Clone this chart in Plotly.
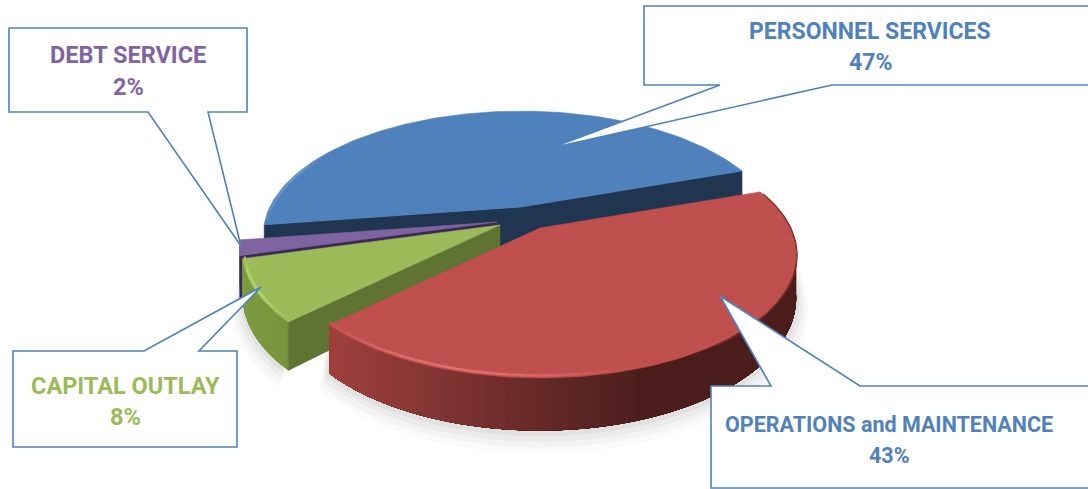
import numpy as np
import plotly.graph_objects as go

# Budget shares
labels = ["PERSONNEL SERVICES", "OPERATIONS and MAINTENANCE", "CAPITAL OUTLAY", "DEBT SERVICE"]
values = [47, 43, 8, 2]

# Slice styling and exploded apex positions, in page pixels
top_colors = ["#4f81bd", "#c0504d", "#9bbb59", "#8064a2"]
cut_colors = ["#1f3550", "#5f7333", "#5f7333", "#3a2a52"]
apexes = [(521, 207), (540, 228), (500, 225), (497, 222)]
x_scales = [0.985, 0.98, 0.985, 0.985]

# Perspective parameters of the pie disc
RX, RY, K, DEPTH = 255.0, 117.0, 0.22, 41.0
START_DEG = 188.5  # the first slice begins here and runs clockwise

W, H = 1088, 489


def rim(i, deg, drop=0.0, grow=0.0):
    """Project circle angles (degrees) of slice i to page pixels, optionally lowered by the depth."""
    t = np.radians(np.asarray(deg, dtype=float))
    w = 1 + K * np.sin(t)
    x = apexes[i][0] + (RX + grow) * x_scales[i] * np.cos(t) / w
    y = apexes[i][1] - (RY + grow) * np.sin(t) / w + drop * DEPTH / w
    return x, y


def blend(a, b, f):
    ca = [int(a[i:i + 2], 16) for i in (1, 3, 5)]
    cb = [int(b[i:i + 2], 16) for i in (1, 3, 5)]
    return "rgb(%d,%d,%d)" % tuple(round(p + (q - p) * f) for p, q in zip(ca, cb))


fig = go.Figure()


def poly(xs, ys, color, edge=0.6):
    fig.add_trace(go.Scatter(
        x=list(xs), y=list(ys), mode="lines", fill="toself", fillcolor=color,
        line=dict(color=color, width=edge), hoverinfo="skip", showlegend=False,
    ))


def stroke(xs, ys, color, width):
    fig.add_trace(go.Scatter(
        x=list(xs), y=list(ys), mode="lines",
        line=dict(color=color, width=width), hoverinfo="skip", showlegend=False,
    ))


# Angular span of each slice, running clockwise from the start angle
spans = []
a = START_DEG
for v in values:
    b = a - v / sum(values) * 360.0
    spans.append((a, b))
    a = b


def arc(i, n=120):
    return np.linspace(spans[i][0], spans[i][1], n)


def cut_face(i, deg):
    ax, ay = apexes[i]
    x0, y0 = rim(i, deg)
    x1, y1 = rim(i, deg, drop=1)
    poly([ax, x0, x1, ax, ax], [ay, y0, y1, ay + DEPTH, ay], cut_colors[i])


def rim_wall(i, c_from, c_to, x_from, x_to, steps=70):
    # Strips overlap their successor so no seams show through the gradient
    deg = np.linspace(spans[i][0], spans[i][1], steps + 1)
    end = deg[-1]
    for d0, d1 in zip(deg[:-1], deg[1:]):
        seg = np.linspace(d0, end, 40)
        xt, yt = rim(i, seg)
        xb, yb = rim(i, seg, drop=1)
        xm = rim(i, (d0 + d1) / 2)[0]
        f = float(np.clip((xm - x_from) / (x_to - x_from), 0, 1))
        poly(np.r_[xt, xb[::-1]], np.r_[yt, yb[::-1]], blend(c_from, c_to, f), edge=0)


def top_face(i):
    x, y = rim(i, arc(i))
    poly(np.r_[apexes[i][0], x, apexes[i][0]], np.r_[apexes[i][1], y, apexes[i][1]], top_colors[i])


def bevel(i, d_from, d_to, base, light, width=2.0, steps=24):
    deg = np.linspace(d_from, d_to, steps + 1)
    for j in range(steps):
        x, y = rim(i, deg[j:j + 2], grow=-2.0)
        f = np.sin(np.pi * (j + 0.5) / steps)
        stroke(x, y, blend(base, light, f), width)


# Soft ground shadow beneath the near slices
for grow, alpha in [(12, 0.025), (9, 0.035), (6, 0.045), (3, 0.06)]:
    for i in (1, 2):
        x, y = rim(i, arc(i), drop=1, grow=grow)
        xt, yt = rim(i, arc(i)[::-1])
        poly(np.r_[x, xt], np.r_[y + grow * 0.6, yt], f"rgba(60,60,60,{alpha})", edge=0)

# Personnel services: both cut faces sit behind the other slices
cut_face(0, spans[0][1])
cut_face(0, spans[0][0])
top_face(0)
bevel(0, 188, 150, "#4f81bd", "#6e9bd2")

# Debt service
rim_wall(3, "#5c5a6e", "#5c5a6e", 0, 1, steps=4)
cut_face(3, spans[3][0])
top_face(3)

# Capital outlay
rim_wall(2, "#7c9a42", "#779439", 240, 300, steps=30)
cut_face(2, spans[2][0])
top_face(2)
bevel(2, 195, 224, "#9bbb59", "#b4d86c", width=2.5)

# Operations and maintenance, with a darkening gradient around its outer wall
rim_wall(1, "#9d403c", "#4b1e1c", 335, 640, steps=110)
top_face(1)
bevel(1, 224, 285, "#c0504d", "#e0716d", width=2.5)
xr, yr = rim(1, np.linspace(18, -55, 60), grow=1)
stroke(xr, yr, "#7a2f2c", 1.2)

# Callout boxes: each outline is a box whose edge runs out to a pointer tip
callout_paths = [
    "M644,6 L1100,6 L1100,85 L832,85 L551,148 L720,85 L644,85 Z",
    "M9,28 L247,28 L247,112 L208,112 L241,246 L148,112 L9,112 Z",
    "M13,351 L144,351 L261,287 L199,351 L237,351 L237,447 L13,447 Z",
    "M711,386 L771,386 L720,296 L860,386 L1100,386 L1100,488 L711,488 Z",
]
shapes = [
    dict(type="path", path=p, xref="x", yref="y", layer="above",
         fillcolor="white", line=dict(color="#4f81bd", width=1.6))
    for p in callout_paths
]

# Callout captions: (slice index, centre x, name y, percent y, font size, colour)
captions = [
    (0, 870, 31, 62, 23, "#4f81bd"),
    (1, 889, 424, 455, 21.5, "#4f81bd"),
    (2, 125, 386, 417, 23.5, "#9bbb59"),
    (3, 128, 55, 87, 23.5, "#8064a2"),
]
FONT = "Roboto, Liberation Sans, sans-serif"
annotations = []
for i, cx, y1, y2, size, color in captions:
    for text, yy in ((labels[i], y1), (f"{values[i]}%", y2)):
        annotations.append(dict(
            x=cx, y=yy, xref="x", yref="y", text=text, showarrow=False,
            xanchor="center", yanchor="middle",
            font=dict(family=FONT, size=size, color=color, weight=700),
        ))

fig.update_layout(
    width=W, height=H, margin=dict(l=0, r=0, t=0, b=0),
    paper_bgcolor="white", plot_bgcolor="white", showlegend=False,
    xaxis=dict(range=[0, W], visible=False, fixedrange=True),
    yaxis=dict(range=[H, 0], visible=False, fixedrange=True),
    shapes=shapes, annotations=annotations,
)

fig.write_html("out.html", config=dict(displayModeBar=False))
